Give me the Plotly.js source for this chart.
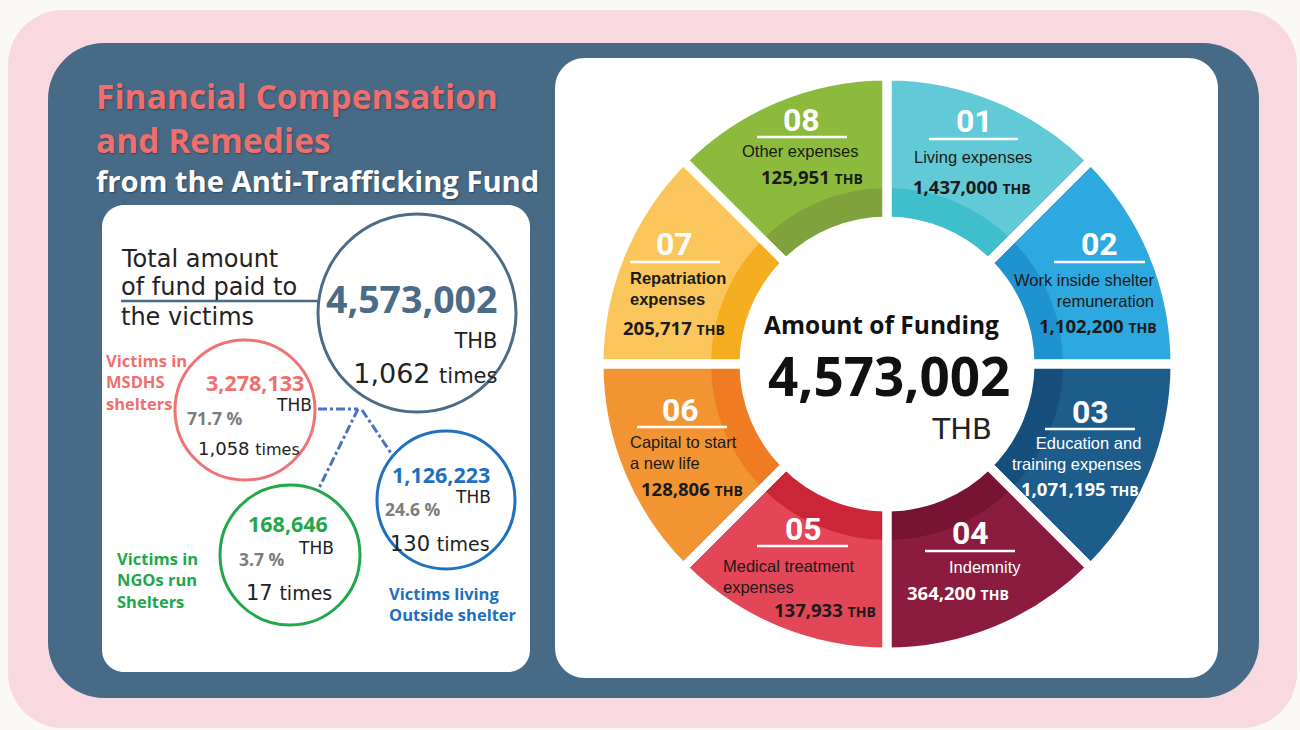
<!DOCTYPE html>
<html>
<head>
<meta charset="utf-8">
<script src="https://cdn.plot.ly/plotly-3.0.1.min.js"></script>
<style>html,body{margin:0;padding:0;background:#faf9f5;}#chart{width:1300px;height:730px;}</style>
</head>
<body>
<div id="chart"></div>
<script>
// ---------------- DATA ----------------
const segNums = ['01', '02', '03', '04', '05', '06', '07', '08'];
const segLabels = ['Living expenses', 'Work inside shelter<br>remuneration', 'Education and<br>training expenses',
  'Indemnity', 'Medical treatment<br>expenses', 'Capital to start<br>a new life', 'Repatriation<br>expenses', 'Other expenses'];
const segValues = [1437000, 1102200, 1071195, 364200, 137933, 128806, 205717, 125951];
const segmentWeights = [1, 1, 1, 1, 1, 1, 1, 1]; // the infographic draws eight equal segments
const totalFund = 4573002;
const totalTimes = 1062;
const groupNames = ['Victims in<br>MSDHS<br>shelters', 'Victims in<br>NGOs run<br>Shelters', 'Victims living<br>Outside shelter'];
const groupValues = [3278133, 168646, 1126223];
const groupShares = [71.7, 3.7, 24.6];
const groupTimes = [1058, 17, 130];
const currency = 'THB';

// ---------------- STYLE / LAYOUT CONFIG ----------------
const W = 1300, H = 730;
const segColors = ['#62c9d6', '#2ea9e0', '#1d5c8b', '#8b1b3f', '#e24657', '#f39433', '#fac65b', '#8cba3d'];
const segDark = ['#3fbfcc', '#1f93d0', '#164f7b', '#771333', '#cb2538', '#ef7b22', '#f4ae1f', '#7fa23c'];
const segTextColor = ['#1a1a1a', '#1a1a1a', '#ffffff', '#ffffff', '#1a1a1a', '#1a1a1a', '#1a1a1a', '#1a1a1a'];
const donut = {cx: 887, cy: 364, R: 288, r: 143, band: 176};
// per-segment text placement: [numX, numY, ulX0, ulX1, ulY, labX, labY, labAnchor, valX, valY, labBold]
const segPos = [
  [974, 121, 929, 1018, 139, 973, 157, 'center', 972, 186, false],
  [1099, 244, 1054, 1145, 262, 1157, 290, 'right', 1098, 325, false],
  [1090, 412, 1045, 1135, 429, 1143, 453, 'right', 1080, 488, false],
  [970, 533, 925, 1015, 551, 985, 567, 'center', 958, 592, false],
  [803, 529, 757, 848, 546, 721, 576, 'left', 825, 609, false],
  [680, 410, 637, 727, 427, 628, 452, 'left', 692, 488, false],
  [674, 244, 630, 720, 262, 628, 288, 'left', 674, 327, true],
  [801, 120, 757, 847, 137, 800, 151, 'center', 812, 176, false]
];
const fmt = v => v.toLocaleString('en-US');

function rr(x0, y0, x1, y1, r) {
  const k = 0.5523 * r;
  return `M${x0 + r},${y0} L${x1 - r},${y0} C${x1 - r + k},${y0} ${x1},${y0 + r - k} ${x1},${y0 + r} ` +
    `L${x1},${y1 - r} C${x1},${y1 - r + k} ${x1 - r + k},${y1} ${x1 - r},${y1} ` +
    `L${x0 + r},${y1} C${x0 + r - k},${y1} ${x0},${y1 - r + k} ${x0},${y1 - r} ` +
    `L${x0},${y0 + r} C${x0},${y0 + r - k} ${x0 + r - k},${y0} ${x0 + r},${y0} Z`;
}
function dom(cx, cy, R) {
  return {x: [(cx - R) / W, (cx + R) / W], y: [(H - cy - R) / H, (H - cy + R) / H]};
}

// ---------------- TRACES ----------------
const traces = [
  {type: 'scatter', x: [], y: [], showlegend: false, hoverinfo: 'skip'},
  {type: 'pie', values: segmentWeights, labels: segNums, sort: false, direction: 'clockwise', rotation: 0,
    hole: donut.r / donut.R, domain: dom(donut.cx, donut.cy, donut.R),
    marker: {colors: segColors, line: {width: 0}}, textinfo: 'none', hoverinfo: 'label+text', text: segValues.map(fmt), showlegend: false},
  {type: 'pie', values: segmentWeights, labels: segNums, sort: false, direction: 'clockwise', rotation: 0,
    hole: donut.r / donut.band, domain: dom(donut.cx, donut.cy, donut.band),
    marker: {colors: segDark, line: {width: 0}}, textinfo: 'none', hoverinfo: 'skip', showlegend: false},
  {type: 'pie', values: segmentWeights, labels: segNums, sort: false, direction: 'clockwise', rotation: 0,
    hole: donut.r / donut.R, domain: dom(donut.cx, donut.cy, donut.R),
    marker: {colors: segNums.map(() => 'rgba(0,0,0,0)'), line: {color: '#ffffff', width: 9}}, textinfo: 'none', hoverinfo: 'skip', showlegend: false}
];

// ---------------- SHAPES ----------------
const shapes = [
  {type: 'path', xref: 'x', yref: 'y', path: rr(8, 10, 1297, 728, 55), fillcolor: '#f9d9e0', line: {width: 0}, layer: 'below'},
  {type: 'path', xref: 'x', yref: 'y', path: rr(48, 43, 1259, 698, 56), fillcolor: '#476b87', line: {width: 0}, layer: 'below'},
  {type: 'path', xref: 'x', yref: 'y', path: rr(102, 205, 530, 672, 22), fillcolor: '#ffffff', line: {width: 0}, layer: 'below'},
  {type: 'path', xref: 'x', yref: 'y', path: rr(555, 58, 1218, 678, 30), fillcolor: '#ffffff', line: {width: 0}, layer: 'below'},
  // bubbles
  {type: 'circle', xref: 'x', yref: 'y', x0: 318, x1: 516, y0: 214, y1: 412, line: {color: '#4b6b86', width: 3}, layer: 'below'},
  {type: 'circle', xref: 'x', yref: 'y', x0: 175, x1: 315, y0: 340, y1: 480, line: {color: '#ef7373', width: 3}, layer: 'below'},
  {type: 'circle', xref: 'x', yref: 'y', x0: 220, x1: 360, y0: 485, y1: 625, line: {color: '#22a84a', width: 3}, layer: 'below'},
  {type: 'circle', xref: 'x', yref: 'y', x0: 377, x1: 515, y0: 431, y1: 569, line: {color: '#1f70bd', width: 3}, layer: 'below'},
  // connectors
  {type: 'line', xref: 'x', yref: 'y', x0: 318, y0: 409, x1: 358, y1: 409, line: {color: '#4a72c6', width: 3, dash: 'dashdot'}, layer: 'below'},
  {type: 'line', xref: 'x', yref: 'y', x0: 358, y0: 409, x1: 318, y1: 490, line: {color: '#4a72c6', width: 3, dash: 'dashdot'}, layer: 'below'},
  {type: 'line', xref: 'x', yref: 'y', x0: 362, y0: 410, x1: 393, y1: 456, line: {color: '#4a72c6', width: 3, dash: 'dashdot'}, layer: 'below'},
  {type: 'line', xref: 'x', yref: 'y', x0: 121, y0: 301, x1: 320, y1: 301, line: {color: '#476b87', width: 2.5}, layer: 'below'}
];
segPos.forEach(p => {
  shapes.push({type: 'line', xref: 'x', yref: 'y', x0: p[2], x1: p[3], y0: p[4], y1: p[4], line: {color: '#ffffff', width: 2.5}, layer: 'above'});
});

// ---------------- ANNOTATIONS ----------------
const ann = [];
function A(x, y, text, size, color, opts) {
  ann.push(Object.assign({xref: 'x', yref: 'y', x: x, y: y, text: text, showarrow: false, xanchor: 'center', yanchor: 'middle',
    font: {family: 'Open Sans', size: size, color: color}}, opts || {}));
}
const light = 'DejaVu Sans ExtraLight, DejaVu Sans';
const titleShadow = '1px 1px 2px rgba(0,0,0,0.35)';
A(94, 118, '<b>Financial Compensation<br>and Remedies</b>', 33.5, '#ef6f6f',
  {xanchor: 'left', align: 'left', font: {family: 'Open Sans', size: 33.5, color: '#ef6f6f', shadow: titleShadow}});
A(94, 181, '<b>from the Anti-Trafficking Fund</b>', 29, '#ffffff', {xanchor: 'left', font: {family: 'Open Sans', size: 29.2, color: '#ffffff', shadow: titleShadow}});

// left panel header text
const lp = {family: light, size: 24, color: '#222222'};
A(119, 259, 'Total amount', 24, '#222', {xanchor: 'left', font: lp});
A(119, 287, 'of fund paid to', 24, '#222', {xanchor: 'left', font: lp});
A(119, 317, 'the victims', 24, '#222', {xanchor: 'left', font: lp});

// total bubble: amount / currency / times, right aligned as in the source
A(499, 331, '<b><span style="font-size:37.5px;color:#4b6b86;font-family:Open Sans">' + fmt(totalFund) + '</span></b><br>' +
  '<span style="font-size:21px">' + currency + '</span><br>' + fmt(totalTimes) + ' <span style="font-size:21px">times</span>', 27, '#222',
  {xanchor: 'right', align: 'right', font: {family: light, size: 27, color: '#222'}});

// group bubbles
const gCol = ['#ef6f6f', '#22a84a', '#1e6fbf'];
const gPos = [
  // [valX, valY, thbX, thbY, pctX, pctY, timesX, timesY, nameX, nameY, timesSize]
  [255, 382, 294, 405, 215, 418, 249, 448, 104, 382, 18],
  [288, 523, 316, 548, 262, 559, 289, 593, 115, 580, 21],
  [441, 474, 473, 497, 413, 509, 440, 544, 387, 604, 21]
];
groupValues.forEach((v, i) => {
  const p = gPos[i];
  A(p[0], p[1], '<b>' + fmt(v) + '</b>', 21.5, gCol[i]);
  A(p[2], p[3], currency, 17, '#222', {font: {family: light, size: 17, color: '#222'}});
  A(p[4], p[5], '<b>' + groupShares[i] + ' %</b>', 17.5, '#7c7c7c');
  A(p[6], p[7], fmt(groupTimes[i]) + ' <span style="font-size:' + (p[10] - 2) + 'px">times</span>', p[10], '#222',
    {font: {family: light, size: p[10], color: '#222'}});
  A(p[8], p[9], '<b>' + groupNames[i] + '</b>', 16.5, gCol[i], {xanchor: 'left', align: 'left'});
});

// donut segment texts
segNums.forEach((n, i) => {
  const p = segPos[i];
  A(p[0], p[1], '<b>' + n + '</b>', 32, '#ffffff', {font: {family: 'Roboto', size: 32, color: '#ffffff'}});
  const lab = p[10] ? '<b>' + segLabels[i] + '</b>' : segLabels[i];
  A(p[5], p[6], lab, 16, segTextColor[i], {xanchor: p[7], align: p[7], font: {family: 'Liberation Sans', size: 16.5, color: segTextColor[i]}});
  A(p[8], p[9], '<b>' + fmt(segValues[i]) + ' <span style="font-size:14px">' + currency + '</span></b>', 18.5, segTextColor[i]);
});

// donut centre
A(881, 324, '<b>Amount of Funding</b>', 24.5, '#111');
A(1012, 392, '<b><span style="font-size:53px;color:#111;font-family:Open Sans">' + fmt(totalFund) + '</span></b><br>' +
  '<span style="font-size:29px">' + currency + '&nbsp;&nbsp;</span>', 33, '#222', {xanchor: 'right', align: 'right', font: {family: light, size: 33, color: '#222'}});

const layout = {
  width: W, height: H,
  margin: {l: 0, r: 0, t: 0, b: 0},
  paper_bgcolor: '#faf9f5', plot_bgcolor: 'rgba(0,0,0,0)',
  xaxis: {range: [0, W], visible: false, fixedrange: true, domain: [0, 1]},
  yaxis: {range: [H, 0], visible: false, fixedrange: true, domain: [0, 1]},
  shapes: shapes,
  annotations: ann,
  showlegend: false
};
Plotly.newPlot('chart', traces, layout, {displayModeBar: false, staticPlot: true});
</script>
</body>
</html>
